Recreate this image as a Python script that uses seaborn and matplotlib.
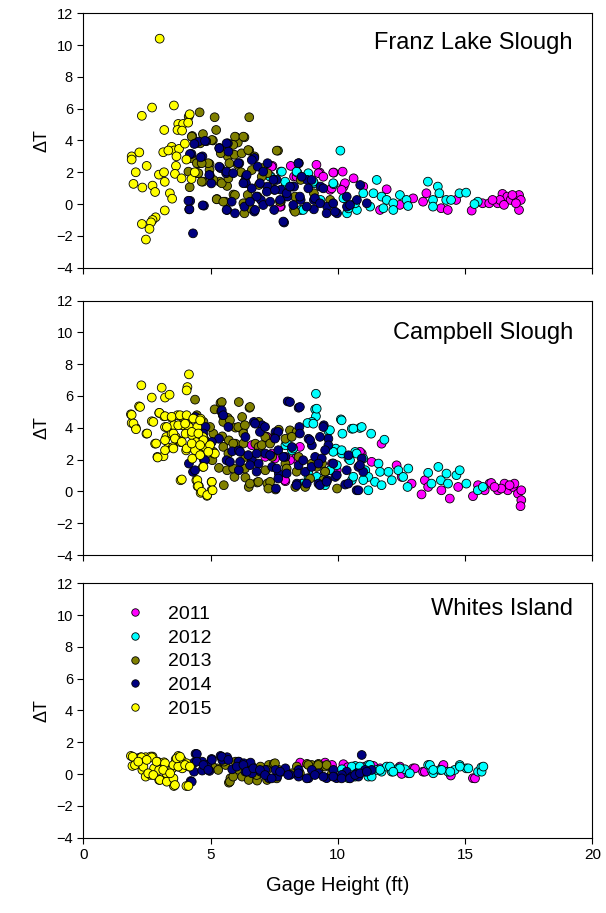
import matplotlib
matplotlib.use('Agg')
import matplotlib.pyplot as plt
import seaborn as sns
import pandas as pd

# ---------------- data ----------------
years = ['2011', '2012', '2013', '2014', '2015']
year_colors = ['#FF00FF', '#00FFFF', '#808000', '#000080', '#FFFF00']
sites = ['Franz Lake Slough', 'Campbell Slough', 'Whites Island']
x_ticks = [0, 5, 10, 15, 20]
y_ticks = [-4, -2, 0, 2, 4, 6, 8, 10, 12]

# Franz Lake Slough (gage height ft, delta T)
franz_2011 = [(7.43, 2.4), (8.15, 2.4), (9.16, 2.47), (9.29, 1.98), (9.84, 1.98), (10.19, 2.04),
              (10.62, 1.62), (8.28, 1.73), (10.23, 1.1), (11.66, -0.37), (11.92, 0.93), (12.44, -0.05),
              (12.96, 0.36), (13.35, 0.15), (13.48, 0.68), (14.06, -0.26), (14.32, -0.37), (14.65, 0.26),
              (15.26, -0.41), (15.69, 0.05), (15.95, 0.05), (16.28, 0.05), (16.47, 0.64), (16.66, 0.47),
              (16.79, 0.26), (17.12, 0.57), (17.19, 0.26), (17.12, -0.37), (17.0, 0.05), (16.37, 0.26),
              (16.08, 0.26), (16.86, 0.57), (16.53, -0.05), (7.76, -0.16), (9.7, 0.9), (11.0, 1.1),
              (7.4, 2.35), (9.24, 1.94), (9.43, 1.72), (9.82, 1.98), (10.28, 1.31), (7.73, -0.16),
              (8.38, 1.72), (9.76, 0.99), (10.15, 0.89)]
franz_2012 = [(10.1, 3.36), (7.76, 2.04), (8.41, 1.98), (8.84, 1.94), (7.95, 1.25), (8.21, 1.1),
              (9.84, 1.25), (9.06, 1.31), (11.53, 1.52), (11.4, 0.68), (11.72, 0.47), (11.92, 0.26),
              (12.18, 0.05), (12.44, 0.57), (12.7, 0.26), (13.54, 1.41), (13.93, 1.1), (13.74, 0.26),
              (14.26, 0.26), (14.45, 0.26), (14.78, 0.68), (15.04, 0.72), (15.5, 0.15), (13.74, -0.16),
              (10.36, -0.58), (10.75, -0.37), (11.0, 0.68), (11.27, -0.16), (11.79, -0.26), (12.18, -0.37),
              (12.76, -0.12), (7.37, 1.73), (8.54, -0.37), (9.32, 0.26), (13.99, 0.68), (15.37, 0.0),
              (7.8, 2.04), (8.38, 2.04), (7.93, 1.41), (9.82, 1.31), (9.04, 1.41), (7.34, 1.72),
              (10.22, 0.37), (10.42, -0.27), (10.68, 0.05), (8.64, -0.37)]
franz_2013 = [(4.57, 5.77), (5.16, 5.46), (6.52, 5.46), (4.14, 5.5), (5.22, 4.66), (4.28, 4.28),
              (5.09, 4.0), (6.0, 4.2), (6.33, 4.2), (5.68, 3.68), (6.07, 3.87), (6.52, 3.36),
              (7.65, 3.36), (4.57, 2.57), (4.96, 2.52), (4.96, 2.15), (5.36, 1.41), (5.65, 1.14),
              (4.7, 1.41), (4.18, 1.06), (5.25, 0.32), (5.57, 0.15), (5.68, 3.0), (5.74, 2.57),
              (6.07, 2.47), (6.33, 1.41), (6.46, 0.57), (6.33, -0.58), (6.85, 0.47), (7.24, 1.94),
              (7.76, 0.15), (8.28, -0.37), (8.54, 1.52), (9.06, 0.68), (9.7, 0.26), (4.25, 2.88),
              (5.94, 3.1), (4.5, 1.94), (6.72, 3.0), (7.04, 2.26), (5.4, 3.2), (6.2, 2.0),
              (6.9, 1.2), (7.5, 0.9), (8.0, 0.5), (5.9, 0.6), (4.7, 4.4), (6.6, -0.3),
              (4.26, 4.24), (4.59, 3.82), (5.05, 4.03), (5.96, 4.24), (6.29, 4.24), (5.89, 3.72),
              (6.22, 3.19), (6.48, 3.4), (7.6, 3.36), (4.46, 2.57), (4.91, 2.57), (4.52, 1.94),
              (4.65, 1.41), (5.24, 0.3), (5.5, 0.15), (5.11, 1.52), (5.44, 1.31), (5.7, 1.62),
              (5.96, 0.57), (6.29, 0.05), (6.62, 2.14), (7.01, 1.72), (7.73, 0.15), (8.32, -0.48),
              (8.32, 0.47), (4.13, 2.04), (4.65, 2.57)]
franz_2014 = [(4.41, 3.82), (4.83, 3.95), (4.53, 3.93), (5.35, 3.53), (5.68, 3.82), (4.68, 3.0),
              (4.25, 3.15), (4.97, 1.81), (5.03, 1.3), (5.39, 2.26), (5.61, 1.94), (4.2, 0.2),
              (4.16, -0.33), (4.74, -0.1), (4.31, -1.84), (5.65, -0.37), (5.96, -0.58), (5.83, 0.15),
              (6.13, 2.57), (6.39, 1.73), (6.39, 1.31), (6.72, 2.9), (6.85, 2.36), (7.24, 2.57),
              (6.33, -0.16), (6.72, -0.47), (6.98, 0.26), (7.24, 1.1), (7.5, 1.52), (7.76, 0.9),
              (7.89, -1.16), (8.02, 0.47), (8.47, 2.57), (8.28, 1.1), (8.54, 0.26), (8.8, 1.52),
              (9.06, 0.26), (9.32, 1.1), (9.58, -0.16), (9.97, -0.58), (10.36, -0.16), (10.75, 0.26),
              (10.88, 1.2), (11.14, 0.05), (7.5, -0.37), (9.06, -0.33),
              (4.36, 3.78), (4.78, 3.97), (4.19, 3.15), (4.61, 2.94), (4.95, 1.83), (5.34, 3.51),
              (5.63, 3.82), (5.7, 3.3), (5.34, 2.35), (5.63, 2.04), (5.89, 1.94), (6.09, 2.57),
              (6.62, 2.77), (6.42, 1.83), (6.29, 1.31), (6.62, 0.99), (6.94, 1.31), (6.81, 0.47),
              (6.55, 0.15), (6.75, -0.37), (7.07, -0.06), (7.21, 0.78), (7.53, 0.89), (7.6, 1.52),
              (7.99, 0.68), (8.25, -0.06), (8.45, 2.57), (8.51, 0.47), (8.84, 0.99), (8.78, -0.16),
              (9.1, 0.37), (9.43, 0.99), (9.56, -0.58), (9.82, 0.05), (9.89, -0.48), (9.3, 0.05),
              (10.35, 0.47), (10.48, -0.06), (4.17, -0.33), (4.13, 0.21), (4.69, -0.08), (5.63, -0.37),
              (7.86, -1.1), (7.34, 0.15), (7.73, 0.26), (8.12, 1.1), (7.07, 2.04), (7.47, 1.52),
              (8.97, 1.52), (8.58, 1.72)]
franz_2015 = [(3.0, 10.4), (2.3, 5.55), (2.7, 6.07), (3.56, 6.2), (3.18, 4.66), (1.9, 3.0),
              (1.9, 2.8), (2.2, 3.25), (2.49, 2.4), (2.06, 2.0), (1.97, 1.27), (2.32, 1.04),
              (2.72, 1.16), (2.82, 0.76), (3.4, 0.68), (3.49, 0.34), (3.2, -0.4), (2.84, -0.83),
              (2.72, -1.0), (2.66, -1.15), (2.3, -1.25), (2.6, -1.56), (2.46, -2.23), (2.97, 1.85),
              (3.17, 2.0), (3.2, 1.4), (3.14, 3.26), (3.47, 3.6), (3.73, 5.04), (3.92, 5.04),
              (4.12, 5.12), (4.18, 5.65), (3.7, 4.66), (3.88, 4.62), (3.57, 3.37), (3.76, 3.47),
              (3.66, 3.0), (3.99, 3.8), (4.05, 2.8), (3.64, 2.4), (3.6, 1.9), (3.86, 1.62),
              (4.25, 1.58), (4.38, 2.0), (3.34, 3.37)]

# Campbell Slough
campbell_2011 = [(7.22, 3.42), (11.72, 3.0), (11.33, 1.86), (7.94, 0.64), (8.59, 0.49), (9.77, 1.75),
                 (10.94, 2.38), (12.31, 1.64), (12.51, 0.91), (12.9, 0.49), (13.29, -0.19), (13.42, 0.7),
                 (13.55, 0.28), (14.07, 0.07), (14.4, -0.45), (14.73, 0.28), (15.31, -0.3), (15.51, 0.39),
                 (15.77, 0.07), (15.96, 0.49), (16.03, 0.53), (16.29, 0.07), (16.55, 0.49), (16.68, 0.07),
                 (16.88, 0.28), (17.08, -0.14), (17.21, 0.07), (17.21, -0.55), (17.18, -0.93), (16.94, 0.49),
                 (16.75, 0.39), (16.42, 0.18), (16.16, 0.28), (7.42, 2.38), (8.33, 2.06), (7.15, 2.17),
                 (7.21, 3.43), (7.53, 2.07), (8.12, 1.96), (7.92, 0.71), (8.51, 2.8), (8.71, 0.49),
                 (9.82, 1.75), (9.96, 1.33), (10.87, 2.49), (6.62, 2.91)]
campbell_2012 = [(9.14, 6.14), (9.11, 5.16), (9.14, 4.72), (8.98, 4.37), (8.81, 4.3), (9.63, 3.8),
                 (10.12, 4.53), (10.55, 3.94), (10.87, 3.99), (10.18, 3.63), (11.31, 3.63), (11.83, 3.25),
                 (9.92, 2.69), (10.16, 2.38), (10.42, 2.06), (10.68, 2.48), (11.08, 1.33), (11.2, 0.91),
                 (11.6, 1.75), (11.66, 1.23), (11.99, 1.23), (11.46, 0.6), (11.72, 0.39), (12.12, 0.7),
                 (12.38, 1.33), (12.57, 0.91), (12.77, 1.44), (12.74, 0.28), (11.2, 0.07), (13.55, 1.17),
                 (13.95, 1.54), (13.68, 0.49), (14.05, 0.7), (14.27, 1.12), (14.66, 1.02), (14.79, 1.33),
                 (14.33, 0.49), (15.05, 0.49), (15.5, 0.07), (15.7, 0.28), (7.94, 2.9), (8.2, 2.58),
                 (8.85, 0.91), (9.5, 0.39), (10.55, 0.7),
                 (9.17, 5.2), (9.04, 4.26), (9.69, 3.85), (10.15, 4.47), (10.61, 3.95), (10.94, 4.05),
                 (7.99, 3.11), (8.25, 2.7), (9.82, 2.49), (10.15, 2.59), (10.48, 1.96), (10.74, 2.38),
                 (11.0, 2.07), (8.84, 1.24), (9.17, 0.92), (9.69, 1.33), (9.96, 1.65), (10.61, 0.92),
                 (11.0, 0.71), (6.88, 2.49), (8.64, 0.49)]
campbell_2013 = [(4.39, 5.77), (5.39, 5.56), (6.11, 5.62), (6.53, 5.26), (5.16, 5.16), (5.68, 4.62),
                 (6.24, 4.68), (5.98, 4.01), (6.27, 3.84), (5.11, 3.63), (5.46, 3.46), (5.72, 3.21),
                 (5.98, 3.0), (6.89, 4.37), (7.15, 3.42), (7.68, 3.88), (8.12, 3.84), (5.33, 1.48),
                 (5.65, 1.33), (5.52, 0.39), (5.94, 0.91), (6.37, 0.87), (6.5, 0.28), (6.83, 0.56),
                 (7.23, 0.49), (7.55, 0.12), (6.76, 3.0), (6.89, 2.79), (7.42, 2.17), (7.94, 1.75),
                 (8.33, 0.28), (8.72, 0.28), (8.98, 1.75), (9.38, 1.75), (9.5, 1.23), (9.97, 0.18),
                 (4.87, 2.58), (5.07, 1.96), (7.15, 1.33), (8.46, 2.17), (6.37, 2.17), (7.94, 3.31),
                 (5.44, 5.62), (6.55, 5.31), (4.46, 4.79), (4.72, 4.37), (4.98, 4.05), (5.5, 4.37),
                 (5.76, 4.47), (6.09, 4.05), (6.35, 4.16), (6.29, 3.64), (5.89, 3.01), (6.29, 3.01),
                 (7.01, 2.91), (7.34, 3.01), (5.89, 1.44), (6.35, 1.44), (6.55, 0.49), (6.88, 0.6),
                 (7.34, 0.6), (7.27, 0.18), (7.99, 1.44), (8.38, 1.24), (8.38, 3.74), (8.19, 3.43),
                 (9.17, 1.54), (9.5, 1.24), (9.43, 0.71), (8.91, 0.81), (5.5, 2.8), (5.7, 2.38),
                 (4.65, 2.59), (5.11, 2.49), (4.78, 3.22)]
campbell_2014 = [(8.03, 5.66), (8.46, 5.26), (5.42, 5.03), (5.48, 4.79), (4.41, 4.68), (4.8, 4.05),
                 (6.7, 4.37), (7.02, 4.16), (7.55, 3.73), (7.55, 3.42), (8.49, 4.05), (9.45, 4.16),
                 (5.33, 3.31), (5.85, 2.52), (5.63, 1.96), (6.11, 2.58), (6.37, 3.42), (6.63, 1.96),
                 (6.89, 1.75), (7.42, 1.54), (7.68, 1.12), (7.94, 2.17), (8.2, 2.79), (8.46, 1.64),
                 (8.85, 3.31), (8.98, 2.9), (9.63, 3.31), (9.63, 2.9), (9.11, 2.17), (8.72, 1.23),
                 (9.24, 0.49), (9.58, 0.7), (9.9, 0.91), (10.29, 0.43), (10.42, 2.27), (10.74, 0.07),
                 (10.81, 1.54), (11.0, 1.23), (10.94, 2.06), (7.57, 0.18), (8.39, 0.49), (4.15, 1.75),
                 (4.31, 1.23), (4.74, 1.96), (7.15, 2.38), (6.11, 1.33),
                 (5.44, 5.1), (5.5, 4.79), (5.7, 4.05), (6.75, 4.26), (6.94, 3.74), (7.14, 4.05),
                 (7.66, 3.74), (7.53, 3.32), (8.12, 5.62), (8.51, 5.31), (8.51, 3.64), (8.91, 3.22),
                 (9.3, 3.43), (9.43, 4.05), (9.5, 2.59), (9.37, 2.07), (9.82, 1.75), (6.16, 2.49),
                 (6.48, 2.28), (6.81, 2.38), (5.76, 1.86), (6.16, 1.86), (6.55, 1.65), (6.81, 1.24),
                 (7.34, 2.28), (7.66, 2.59), (7.86, 2.17), (7.6, 1.44), (7.99, 1.13), (8.64, 1.96),
                 (8.97, 1.54), (9.24, 1.75), (8.38, 0.39), (8.78, 0.49), (9.3, 0.39), (9.56, 0.6),
                 (9.96, 1.02), (10.35, 1.33), (10.41, 0.49), (10.81, 0.07), (10.87, 1.65), (4.78, 1.96),
                 (4.39, 1.33), (4.72, 3.64), (5.05, 3.11), (7.66, 0.81)]
campbell_2015 = [(4.15, 7.36), (2.28, 6.67), (3.08, 6.52), (4.09, 6.56), (4.06, 6.35), (2.69, 5.9),
                 (3.21, 5.9), (3.39, 6.08), (2.19, 5.35), (1.87, 4.85), (1.9, 4.3), (2.06, 3.99),
                 (2.48, 3.63), (2.82, 3.0), (2.91, 2.17), (3.15, 2.21), (2.69, 4.41), (2.98, 4.93),
                 (3.17, 4.72), (3.47, 4.62), (3.7, 4.79), (3.89, 4.68), (3.21, 4.05), (3.26, 3.42),
                 (3.47, 3.63), (3.63, 3.42), (3.79, 3.17), (3.89, 4.16), (4.15, 4.05), (4.28, 4.57),
                 (4.48, 4.05), (4.61, 4.57), (4.02, 3.63), (4.28, 3.53), (4.44, 3.1), (3.34, 2.75),
                 (3.52, 2.79), (3.82, 3.1), (4.04, 2.58), (4.28, 2.06), (4.7, 3.42), (4.78, 2.79),
                 (4.7, 1.54), (3.82, 0.7), (4.44, 0.7), (4.54, 0.33), (4.61, -0.09), (4.86, -0.28),
                 (5.04, 0.6), (5.04, 0.07), (4.49, 0.33), (5.13, 2.38), (4.35, 2.79), (3.56, 4.16),
                 (2.23, 5.31), (1.9, 4.81), (1.97, 4.27), (2.07, 3.91), (2.51, 3.64), (2.86, 3.01),
                 (2.92, 2.13), (2.75, 4.37), (2.99, 4.94), (3.21, 4.73), (3.47, 4.69), (3.8, 4.79),
                 (4.06, 4.79), (4.32, 4.58), (4.59, 4.47), (3.28, 4.05), (3.54, 3.64), (3.73, 4.16),
                 (4.0, 4.26), (4.26, 3.74), (4.52, 3.64), (3.21, 3.22), (3.6, 3.32), (3.87, 3.11),
                 (4.06, 2.7), (4.39, 2.59), (4.72, 3.22), (3.21, 2.59), (3.54, 2.7), (4.26, 3.01),
                 (4.59, 2.91), (4.98, 2.91), (5.17, 2.38), (4.59, 2.28), (4.91, 2.49), (4.72, 1.54),
                 (3.87, 0.75), (4.48, 0.71), (4.52, 0.33), (4.65, -0.02), (4.87, -0.23), (5.05, 0.6),
                 (5.08, 0.07)]

# Whites Island
whites_2011 = [(8.52, 0.72), (9.5, 0.72), (9.77, 0.57), (10.22, 0.62), (10.39, 0.43), (11.4, 0.51),
               (11.66, 0.36), (12.44, 0.47), (12.51, 0.01), (12.96, 0.36), (13.35, 0.15), (14.12, 0.47),
               (14.44, -0.09), (15.31, -0.26), (9.24, 0.47), (11.07, 0.47),
               (13.03, 0.36), (13.42, 0.15), (14.15, 0.57), (15.39, -0.27)]
whites_2012 = [(10.16, 0.3), (10.42, -0.26), (10.68, 0.51), (10.94, 0.15), (11.2, 0.57), (11.2, -0.16),
               (11.53, 0.26), (11.72, 0.15), (11.92, 0.47), (12.18, 0.26), (12.38, 0.36), (12.77, 0.05),
               (12.64, 0.3), (13.55, 0.57), (13.68, 0.26), (13.75, 0.05), (14.01, 0.26), (14.33, 0.15),
               (14.59, 0.26), (14.79, 0.57), (15.05, 0.36), (15.51, 0.15), (15.64, 0.42), (10.68, -0.16),
               (12.12, 0.15),
               (10.55, 0.47), (10.87, 0.47), (11.26, 0.57), (11.66, 0.26), (12.05, 0.47), (12.44, 0.36),
               (12.83, 0.05), (13.62, 0.57), (13.75, 0.26), (14.08, 0.26), (14.42, 0.15), (14.8, 0.47),
               (15.13, 0.36), (15.65, 0.15), (15.72, 0.47), (11.33, -0.16), (12.18, 0.15)]
whites_2013 = [(5.26, 0.36), (5.59, 0.57), (5.78, -0.26), (5.72, -0.54), (5.98, 0.78), (6.11, 0.26),
               (6.24, -0.16), (6.5, -0.37), (6.83, -0.41), (6.63, 0.47), (6.96, 0.47), (7.29, 0.57),
               (7.48, 0.64), (7.68, 0.26), (7.22, -0.37), (8.39, 0.47), (8.79, 0.64), (8.98, 0.57),
               (9.24, 0.64), (9.5, 0.47), (9.24, 0.15), (9.77, 0.05), (8.2, 0.05), (5.52, 0.78),
               (5.07, 0.47),
               (5.3, 0.26), (5.76, -0.48), (5.89, -0.16), (6.09, 0.78), (6.35, 0.57), (6.81, -0.06),
               (7.21, 0.26), (7.53, 0.68), (7.6, -0.27), (8.84, 0.57), (9.23, 0.57), (9.56, 0.57),
               (8.51, 0.05)]
whites_2014 = [(4.41, 1.27), (5.39, 1.14), (4.22, -0.44), (4.35, 0.72), (4.67, 0.78), (4.87, 0.57),
               (4.35, 0.15), (4.67, 0.22), (4.96, 0.2), (5.04, 0.95), (5.46, 0.89), (5.65, 1.06),
               (5.85, 0.3), (6.11, 0.78), (6.31, 0.68), (6.57, 0.72), (6.37, 0.15), (6.63, 0.05),
               (6.96, 0.15), (7.29, -0.26), (7.62, -0.16), (7.15, 0.26), (7.55, 0.26), (7.81, 0.15),
               (8.13, -0.05), (8.46, -0.16), (8.85, -0.26), (8.46, 0.26), (8.98, 0.26), (9.24, 0.05),
               (9.56, -0.26), (9.95, -0.26), (9.83, 0.26), (10.35, 0.15), (10.55, -0.16), (10.81, -0.16),
               (10.94, 1.2), (11.07, 0.15), (11.33, 0.26), (10.16, -0.05), (7.94, 0.36),
               (4.46, 1.26), (4.26, -0.48), (4.46, 0.78), (4.72, 0.57), (5.05, 0.89), (4.91, 0.26),
               (5.44, 1.09), (5.7, 0.89), (6.03, 0.47), (6.29, 0.57), (6.42, 0.15), (6.68, 0.36),
               (6.94, 0.26), (7.14, -0.06), (7.4, -0.27), (7.73, 0.15), (8.05, -0.06), (8.45, 0.05),
               (8.78, -0.27), (9.1, -0.06), (9.43, -0.16), (9.82, -0.16), (10.15, -0.27), (10.48, -0.27),
               (10.74, 0.05), (11.07, 0.26), (10.68, -0.06), (10.87, 0.05), (11.14, 0.15)]
whites_2015 = [(1.87, 1.14), (1.93, 0.51), (2.13, 0.99), (2.26, 1.06), (2.45, 1.06), (2.72, 1.1),
               (2.32, 0.26), (2.45, -0.16), (2.65, -0.05), (2.78, 0.36), (2.98, 0.26), (2.91, 0.78),
               (3.17, 0.74), (2.98, -0.37), (3.21, -0.33), (3.37, -0.12), (3.52, -0.31), (3.56, -0.75),
               (3.26, 0.05), (3.5, 0.36), (3.73, 0.47), (3.63, 0.93), (3.76, 0.78), (3.96, 0.68),
               (3.73, 1.14), (4.05, -0.75), (3.89, 0.36), (4.15, 0.47), (2.65, 1.1),
               (1.94, 1.09), (2.29, 1.05), (2.69, 1.05), (2.03, 0.57), (2.36, 0.46), (2.16, 0.78),
               (2.49, 0.89), (2.88, 0.78), (3.21, 0.68), (3.54, 0.57), (3.87, 0.89), (4.06, 0.68),
               (2.55, 0.05), (2.75, -0.06), (3.01, -0.37), (3.28, -0.48), (3.54, -0.27), (3.14, 0.26),
               (3.41, 0.05), (3.73, 0.47), (4.0, 0.57), (4.19, 0.47), (3.6, -0.69), (4.13, -0.75),
               (3.67, 0.99), (3.8, 1.09)]

site_data = {
    'Franz Lake Slough': [franz_2011, franz_2012, franz_2013, franz_2014, franz_2015],
    'Campbell Slough': [campbell_2011, campbell_2012, campbell_2013, campbell_2014, campbell_2015],
    'Whites Island': [whites_2011, whites_2012, whites_2013, whites_2014, whites_2015],
}

# ---------------- style ----------------
sns.set_style('ticks')
plt.rcParams['font.family'] = ['Liberation Sans', 'DejaVu Sans']
for key in ['axes.edgecolor', 'xtick.color', 'ytick.color', 'text.color', 'axes.labelcolor']:
    plt.rcParams[key] = 'black'

fig = plt.figure(figsize=(6.06, 9.13), dpi=100)
left, width, height = 0.1375, 0.8399, 0.2787
bottoms = [0.7068, 0.3921, 0.0825]
title_y = [0.885, 0.872, 0.899]
palette = dict(zip(years, year_colors))

for i, site in enumerate(sites):
    ax = fig.add_axes([left, bottoms[i], width, height])
    rows = []
    for yr, pts in zip(years, site_data[site]):
        for gx, dt in pts:
            rows.append({'gage': gx, 'dT': dt, 'year': yr})
    df = pd.DataFrame(rows)
    sns.scatterplot(data=df, x='gage', y='dT', hue='year', hue_order=years,
                    palette=palette, s=40, edgecolor='black', linewidth=0.6,
                    legend=(i == 2), ax=ax, zorder=3)
    ax.set_xlim(0, 20)
    ax.set_ylim(-4, 12)
    ax.set_xticks(x_ticks)
    ax.set_yticks(y_ticks)
    ax.tick_params(direction='out', length=4, width=0.8, top=False, right=False)
    ax.tick_params(axis='x', labelsize=11)
    ax.tick_params(axis='y', labelsize=10.5)
    for sp in ax.spines.values():
        sp.set_visible(True)
        sp.set_linewidth(0.8)
        sp.set_color('black')
    ax.set_ylabel('ΔT', fontsize=13, labelpad=4)
    if i < 2:
        ax.set_xlabel('')
        ax.set_xticklabels([])
    else:
        ax.set_xlabel('Gage Height (ft)', fontsize=14.5, labelpad=10)
        handles, labels = ax.get_legend_handles_labels()
        ax.legend(handles, labels, loc='upper left', bbox_to_anchor=(0.082, 0.914),
                  frameon=False, fontsize=14, markerscale=0.85, handlelength=1.0,
                  handletextpad=1.2, labelspacing=0.32, borderaxespad=0, borderpad=0)
    ax.text(0.962, title_y[i], site, transform=ax.transAxes, ha='right', va='center',
            fontsize=17)

fig.savefig('out.png', dpi=100)
